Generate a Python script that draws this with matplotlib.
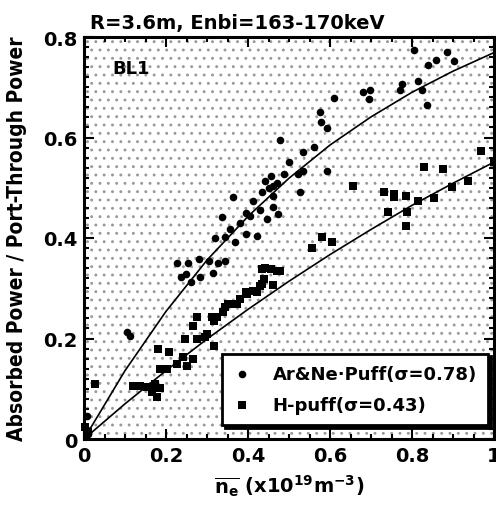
import numpy as np
import matplotlib
matplotlib.use('Agg')
import matplotlib.pyplot as plt
from matplotlib.patches import Rectangle
from matplotlib.ticker import MultipleLocator

plt.rcParams['font.family'] = ['DejaVu Sans']
plt.rcParams['font.weight'] = 'bold'
plt.rcParams['mathtext.default'] = 'bf'
plt.rcParams['hatch.linewidth'] = 0.9

# Ar&Ne puff points
arne_x = [0.005, 0.010, 0.007, 0.105, 0.112,
          0.227, 0.254, 0.281, 0.306, 0.327, 0.345,
          0.237, 0.249, 0.262, 0.284, 0.314,
          0.320, 0.337, 0.345, 0.357, 0.369, 0.364, 0.394, 0.406, 0.413,
          0.423, 0.435, 0.442, 0.447, 0.455, 0.460, 0.460, 0.462, 0.474,
          0.477, 0.487, 0.500, 0.521, 0.528, 0.533, 0.535, 0.562, 0.575,
          0.577, 0.592, 0.592, 0.609, 0.395, 0.430, 0.450, 0.470, 0.380,
          0.680, 0.697, 0.694, 0.770, 0.775, 0.804, 0.814, 0.824, 0.836,
          0.839, 0.858, 0.885, 0.902]
arne_y = [0.020, 0.010, 0.046, 0.213, 0.205,
          0.350, 0.350, 0.358, 0.354, 0.350, 0.354,
          0.322, 0.328, 0.312, 0.322, 0.330,
          0.400, 0.442, 0.402, 0.418, 0.392, 0.482, 0.408, 0.444, 0.474,
          0.404, 0.492, 0.513, 0.438, 0.523, 0.484, 0.462, 0.503, 0.448,
          0.595, 0.527, 0.551, 0.527, 0.492, 0.533, 0.571, 0.581, 0.651,
          0.631, 0.619, 0.533, 0.679, 0.450, 0.455, 0.500, 0.510, 0.430,
          0.691, 0.695, 0.677, 0.695, 0.706, 0.774, 0.712, 0.695, 0.665,
          0.744, 0.754, 0.770, 0.752]

# H puff points
h_x = [0.002, 0.010, 0.027,
       0.120, 0.137, 0.154, 0.174, 0.166, 0.178, 0.186,
       0.181, 0.186, 0.203, 0.208, 0.227, 0.242, 0.252, 0.267,
       0.247, 0.267, 0.276, 0.276, 0.296, 0.300, 0.316, 0.316, 0.325,
       0.313, 0.340, 0.345, 0.350, 0.364, 0.374, 0.381, 0.394, 0.398,
       0.413, 0.423, 0.430, 0.435, 0.438, 0.435, 0.442, 0.455, 0.460,
       0.470, 0.479,
       0.557, 0.580, 0.606, 0.655,
       0.731, 0.741, 0.755, 0.755, 0.785, 0.785, 0.787, 0.814, 0.829,
       0.853, 0.875, 0.897, 0.936, 0.968, 1.000]
h_y = [0.024, 0.014, 0.109,
       0.105, 0.105, 0.103, 0.109, 0.093, 0.084, 0.101,
       0.179, 0.139, 0.139, 0.173, 0.149, 0.163, 0.145, 0.159,
       0.199, 0.225, 0.199, 0.243, 0.203, 0.209, 0.185, 0.235, 0.243,
       0.243, 0.253, 0.263, 0.269, 0.269, 0.269, 0.279, 0.292, 0.288,
       0.294, 0.292, 0.304, 0.308, 0.318, 0.338, 0.340, 0.338, 0.306,
       0.334, 0.334,
       0.380, 0.401, 0.392, 0.503,
       0.492, 0.452, 0.482, 0.488, 0.484, 0.424, 0.452, 0.474, 0.541,
       0.480, 0.538, 0.501, 0.513, 0.573, 0.551]

# fit curves
fit_x = [0.0, 0.1, 0.2, 0.3, 0.4, 0.5, 0.6, 0.7, 0.8, 0.9, 1.0]
fit_arne = [0.0, 0.136, 0.254, 0.356, 0.443, 0.519, 0.585, 0.641, 0.690, 0.732, 0.769]
fit_h = [0.0, 0.070, 0.136, 0.199, 0.258, 0.314, 0.367, 0.417, 0.465, 0.509, 0.551]

fig = plt.figure(figsize=(4.96, 5.10), dpi=100)
ax = fig.add_axes([84 / 496, 1 - 440 / 510, 410 / 496, 402 / 510])

# stippled background
ax.add_patch(Rectangle((0, 0), 1, 1, transform=ax.transAxes, facecolor='white',
                       edgecolor='0.6', hatch='..', lw=0, zorder=0))

ax.plot(fit_x, fit_arne, color='black', lw=1.2, zorder=2)
ax.plot(fit_x, fit_h, color='black', lw=1.2, zorder=2)
ax.scatter(arne_x, arne_y, s=30, marker='o', color='black', lw=0, zorder=3,
           label='Ar&Ne\u00b7Puff(\u03c3=0.78)', clip_on=False)
ax.scatter(h_x, h_y, s=34, marker='s', color='black', lw=0, zorder=3,
           label='H-puff(\u03c3=0.43)', clip_on=False)

ax.set_xlim(0, 1)
ax.set_ylim(0, 0.8)
ax.xaxis.set_minor_locator(MultipleLocator(0.05))
ax.yaxis.set_minor_locator(MultipleLocator(0.02))
ax.set_xticks([0, 0.2, 0.4, 0.6, 0.8, 1.0])
ax.set_xticklabels(['0', '0.2', '0.4', '0.6', '0.8', '1'])
ax.set_yticks([0, 0.2, 0.4, 0.6, 0.8])
ax.set_yticklabels(['0', '0.2', '0.4', '0.6', '0.8'])
ax.tick_params(which='both', direction='in', top=True, right=True, width=1.5)
ax.tick_params(which='major', length=7, labelsize=14, pad=5)
ax.tick_params(which='minor', length=3.5)
for sp in ax.spines.values():
    sp.set_linewidth(2.2)

ax.set_ylabel('Absorbed Power / Port-Through Power', fontsize=15, fontweight='bold',
              fontstretch='condensed')
ax.yaxis.set_label_coords(-0.14, 0.5)
ax.set_xlabel(r'$\overline{\mathbf{n}_\mathbf{e}}$ (x10$^{19}$m$^{-3}$)', fontsize=14,
              fontweight='bold', labelpad=6)

ax.text(0.015, 1.012, 'R=3.6m, Enbi=163-170keV', transform=ax.transAxes,
        fontsize=14, fontweight='bold', va='bottom', ha='left')
ax.text(0.07, 0.945, 'BL1', transform=ax.transAxes, fontsize=13, fontweight='bold',
        va='top', ha='left', zorder=4)

leg = ax.legend(loc='lower right', bbox_to_anchor=(0.985, 0.035), fontsize=13,
                frameon=True, fancybox=False, edgecolor='black', framealpha=1,
                handlelength=1.0, handletextpad=1.2, borderpad=0.6, labelspacing=0.75,
                borderaxespad=0.0,
                shadow={'color': 'black', 'alpha': 1})
leg.get_frame().set_linewidth(2.0)
for t in leg.get_texts():
    t.set_fontweight('bold')

fig.savefig('out.png', dpi=100)
